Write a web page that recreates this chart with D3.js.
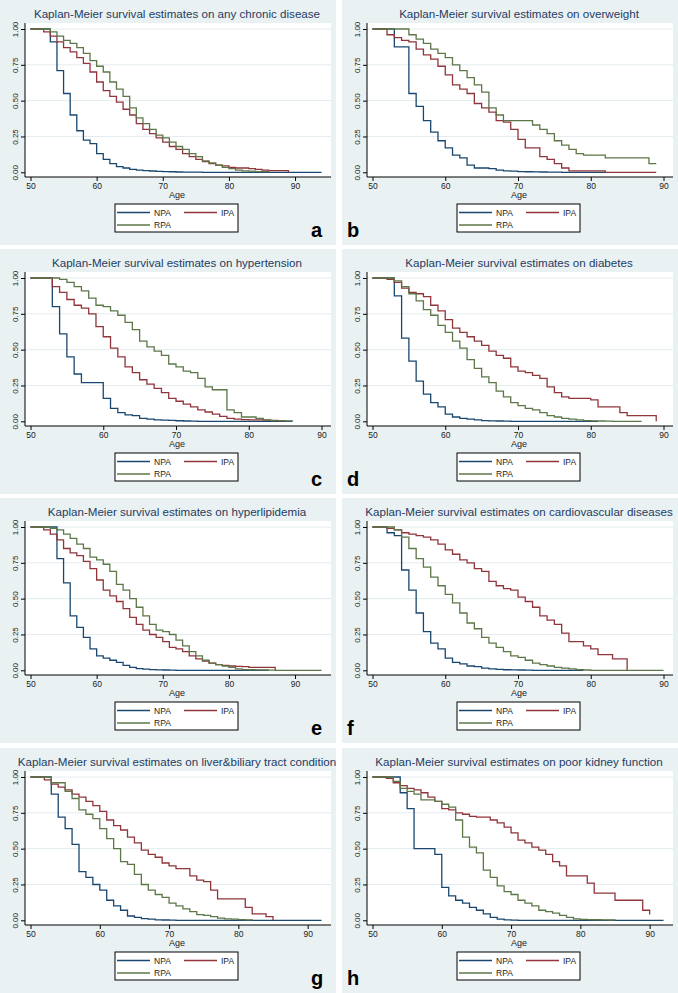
<!DOCTYPE html>
<html><head><meta charset="utf-8">
<script src="https://cdn.jsdelivr.net/npm/d3@7"></script>
<style>
body{margin:0;background:#fff}
svg{display:block}
text{font-family:"Liberation Sans",Arial,Helvetica,sans-serif}
</style>
</head><body>
<svg id="chart" width="678" height="993"></svg>
<script>
// ---------- data ----------
const startAge = 50;
const titles = [
  "Kaplan-Meier survival estimates on any chronic disease",
  "Kaplan-Meier survival estimates on overweight",
  "Kaplan-Meier survival estimates on hypertension",
  "Kaplan-Meier survival estimates on diabetes",
  "Kaplan-Meier survival estimates on hyperlipidemia",
  "Kaplan-Meier survival estimates on cardiovascular diseases",
  "Kaplan-Meier survival estimates on liver&biliary tract condition",
  "Kaplan-Meier survival estimates on poor kidney function"
];
const letters = ["a","b","c","d","e","f","g","h"];
const xMaxes = [94,90,90,90,94,90,92,92];
const xTicks = [50,60,70,80,90];
const yTicks = [0,0.25,0.5,0.75,1];
const seriesNames = ["NPA","IPA","RPA"];
const seriesColors = ["#1a476f","#90353b","#5d7748"];

// survival at ages 50, 51, 52, ... (last value = end of curve)
const npaA = [1,1,1,.91,.71,.55,.40,.29,.225,.20,.13,.09,.06,.04,.03,.02,.015,.012,.009,.007,.005,.004,.002,.001,.001,.001,0,0,0,0,0,0,0,0,0,0,0,0,0,0,0,0,0,0,0];
const ipaA = [1,1,.98,.95,.91,.87,.84,.80,.76,.70,.63,.57,.53,.49,.44,.40,.34,.30,.27,.24,.21,.18,.16,.13,.11,.09,.075,.06,.05,.045,.035,.03,.03,.025,.02,.015,.012,.012,.012,0];
const rpaA = [1,1,1,.98,.95,.92,.90,.87,.83,.78,.74,.70,.63,.58,.53,.45,.38,.34,.30,.26,.24,.21,.18,.16,.13,.11,.08,.065,.05,.035,.025,.015,.01,.008,.005,.005,0];

const npaB = [1,1,1,.875,.875,.55,.46,.36,.28,.22,.17,.12,.10,.05,.03,.03,.025,.015,.01,.008,.005,.004,.003,.002,.001,.001,0,0,0,0,0,0,0];
const ipaB = [1,1,.96,.94,.92,.91,.86,.82,.79,.74,.68,.61,.58,.55,.48,.45,.42,.36,.35,.30,.23,.17,.17,.11,.09,.06,.03,.01,.01,.01,.01,.01,0,0,0,0,0,0,0,0];
const rpaB = [1,1,1,1,1,.96,.93,.90,.86,.83,.80,.75,.71,.66,.61,.56,.45,.40,.36,.36,.36,.36,.33,.30,.27,.22,.19,.16,.13,.12,.12,.12,.10,.10,.10,.10,.10,.10,.06,.06];

const npaC = [1,1,1,.80,.61,.45,.33,.27,.27,.27,.16,.09,.06,.045,.04,.02,.015,.01,.008,.006,.004,.002,.001,0,0,0,0,0,0,0,0,0,0,0,0,0,0];
const ipaC = [1,1,1,.94,.90,.85,.81,.79,.75,.66,.59,.51,.45,.38,.34,.29,.26,.23,.20,.16,.14,.12,.10,.08,.065,.05,.035,.02,.015,.012,.01,.01,.008,.006,.004,0];
const rpaC = [1,1,1,1,.99,.97,.94,.91,.86,.81,.80,.77,.74,.69,.64,.56,.52,.49,.46,.40,.38,.35,.34,.30,.24,.22,.22,.08,.06,.03,.03,.02,.01,.005,.005,.003,0];

const npaD = [1,1,1,.875,.58,.42,.28,.19,.13,.10,.05,.03,.02,.015,.01,.005,.003,.002,.001,0,0,0,0,0,0,0,0,0,0,0,0,0];
const ipaD = [1,1,.99,.97,.93,.90,.89,.87,.81,.77,.71,.65,.62,.59,.56,.53,.49,.46,.44,.38,.35,.34,.32,.30,.24,.20,.17,.16,.16,.16,.15,.10,.10,.10,.06,.04,.04,.04,.04,0];
const rpaD = [1,1,1,.98,.94,.89,.84,.78,.74,.67,.62,.56,.51,.43,.37,.31,.27,.21,.17,.13,.11,.09,.08,.06,.04,.03,.02,.015,.01,.005,.003,.002,.001,0,0,0,0,0];

const npaE = [1,1,1,1,.78,.61,.38,.30,.23,.15,.10,.085,.07,.055,.035,.02,.012,.008,.005,.003,.002,.001,0,0,0,0,0,0,0,0,0,0,0,0,0,0,0];
const ipaE = [1,1,.98,.95,.91,.85,.82,.80,.76,.71,.63,.56,.52,.48,.43,.37,.32,.28,.25,.23,.20,.16,.15,.13,.10,.08,.065,.05,.04,.035,.03,.028,.025,.02,.02,.02,.02,0];
const rpaE = [1,1,1,.99,.98,.95,.92,.88,.85,.79,.77,.74,.69,.60,.56,.50,.44,.38,.32,.28,.27,.25,.21,.17,.13,.10,.07,.05,.04,.03,.02,.01,.005,.004,.003,.002,.001,0,0,0,0,0,0,0,0];

const npaF = [1,1,.96,.94,.70,.56,.40,.27,.19,.15,.085,.055,.045,.03,.025,.015,.01,.006,.004,.003,.002,.001,0,0,0,0,0,0,0,0];
const ipaF = [1,1,.99,.98,.96,.95,.94,.93,.91,.88,.84,.81,.77,.75,.71,.69,.62,.59,.57,.56,.51,.48,.44,.38,.35,.32,.26,.20,.20,.17,.15,.11,.11,.08,.08,0];
const rpaF = [1,1,1,.98,.93,.85,.78,.72,.65,.59,.53,.47,.40,.33,.29,.23,.19,.16,.13,.10,.09,.07,.05,.04,.03,.02,.015,.01,.005,.002,0,0,0,0,0,0,0,0,0,0,0];

const npaG = [1,1,1,.88,.72,.64,.53,.34,.30,.25,.21,.14,.10,.07,.03,.02,.012,.008,.003,.002,.001,0,0,0,0,0,0,0,0,0,0,0,0,0,0,0,0,0,0,0,0,0,0];
const ipaG = [1,1,.98,.95,.93,.91,.88,.86,.83,.80,.76,.70,.66,.63,.58,.54,.49,.46,.44,.40,.38,.36,.36,.31,.28,.27,.21,.15,.15,.15,.15,.09,.045,.045,.025,0];
const rpaG = [1,1,1,.96,.96,.90,.85,.77,.74,.71,.64,.57,.50,.41,.39,.32,.25,.21,.18,.16,.12,.10,.08,.06,.04,.035,.025,.015,.01,.008,.005,.003,0];

const npaH = [1,1,1,1,.89,.78,.50,.50,.50,.46,.23,.17,.14,.12,.09,.07,.045,.02,.008,.003,.001,0,0,0,0,0,0,0,0,0,0,0,0,0,0,0,0,0,0,0,0,0,0];
const ipaH = [1,1,.99,.96,.94,.92,.91,.89,.86,.83,.78,.77,.75,.74,.725,.72,.72,.70,.68,.65,.61,.56,.54,.51,.49,.46,.41,.38,.31,.31,.31,.26,.19,.19,.19,.14,.14,.14,.14,.07,.04];
const rpaH = [1,1,1,.97,.92,.90,.88,.84,.84,.83,.81,.79,.70,.58,.51,.47,.35,.30,.24,.20,.18,.14,.12,.10,.07,.06,.05,.035,.02,.01,.007,.005,.004,.003,.002,0];

const npaAll = [npaA,npaB,npaC,npaD,npaE,npaF,npaG,npaH];
const ipaAll = [ipaA,ipaB,ipaC,ipaD,ipaE,ipaF,ipaG,ipaH];
const rpaAll = [rpaA,rpaB,rpaC,rpaD,rpaE,rpaF,rpaG,rpaH];

// ---------- layout ----------
const colLeft = [0, 342];
const rowTop = [0, 249, 498, 748];
const panelW = 336, panelH = 245;
const bg = "#e9f1f2";

const svg = d3.select("#chart");
svg.append("rect").attr("width",678).attr("height",993).attr("fill","#fff");

titles.forEach((title, i) => {
  const ox = colLeft[i % 2], oy = rowTop[Math.floor(i / 2)];
  const g = svg.append("g");
  g.append("rect").attr("x", ox).attr("y", oy).attr("width", panelW).attr("height", panelH).attr("fill", bg);
  // plot region
  g.append("rect").attr("x", ox + 25).attr("y", oy + 23).attr("width", 306).attr("height", 154).attr("fill", "#fff");

  const x = d3.scaleLinear().domain([startAge, xMaxes[i]]).range([ox + 30.5, ox + 321.5]);
  const y = d3.scaleLinear().domain([0, 1]).range([oy + 172.3, oy + 29]);

  // grid
  g.selectAll(".grid").data(yTicks.filter(d => d > 0)).join("line")
    .attr("x1", ox + 25).attr("x2", ox + 331)
    .attr("y1", d => y(d)).attr("y2", d => y(d))
    .attr("stroke", "#e4ecee").attr("stroke-width", 1);

  // title
  g.append("text").attr("x", ox + 177).attr("y", oy + 17.5).attr("text-anchor", "middle")
    .attr("font-size", 11.6).attr("fill", "#1f3b63").text(title);

  // curves
  const line = d3.line().x(d => x(d[0])).y(d => y(d[1])).curve(d3.curveStepAfter);
  [npaAll[i], ipaAll[i], rpaAll[i]].forEach((arr, s) => {
    const pts = arr.map((v, k) => [startAge + k, v]);
    g.append("path").attr("d", line(pts)).attr("fill", "none")
      .attr("stroke", seriesColors[s]).attr("stroke-width", 1.3);
  });

  // y axis
  const ya = g.append("g").attr("transform", `translate(${ox + 25},0)`)
    .call(d3.axisLeft(y).tickValues(yTicks).tickSize(4).tickSizeOuter(0).tickFormat(d3.format(".2f")));
  ya.select(".domain").remove();
  ya.selectAll(".tick line").attr("stroke", "#000");
  ya.selectAll(".tick text").attr("x", 0).attr("dy", null).attr("y", -7)
    .attr("transform", "rotate(-90)").attr("text-anchor", "middle")
    .attr("font-size", 8).attr("fill", "#222").style("font-family", '"Liberation Sans",Arial,sans-serif');
  g.append("line").attr("x1", ox + 25).attr("x2", ox + 25).attr("y1", oy + 23).attr("y2", oy + 177).attr("stroke", "#000");

  // x axis
  const xa = g.append("g").attr("transform", `translate(0,${oy + 177})`)
    .call(d3.axisBottom(x).tickValues(xTicks).tickSize(4).tickSizeOuter(0).tickPadding(2));
  xa.select(".domain").remove();
  xa.selectAll(".tick line").attr("stroke", "#000");
  xa.selectAll(".tick text").attr("font-size", 8.5).attr("fill", "#222")
    .style("font-family", '"Liberation Sans",Arial,sans-serif');
  g.append("line").attr("x1", ox + 25).attr("x2", ox + 331).attr("y1", oy + 177).attr("y2", oy + 177).attr("stroke", "#000");

  g.append("text").attr("x", ox + 177).attr("y", oy + 198).attr("text-anchor", "middle")
    .attr("font-size", 9).attr("fill", "#222").text("Age");

  // legend
  const lx = ox + 115, ly = oy + 204;
  g.append("rect").attr("x", lx).attr("y", ly).attr("width", 123).attr("height", 28)
    .attr("fill", "#fff").attr("stroke", "#000").attr("stroke-width", 1);
  const legPos = [[2, 8.5], [69, 8.5], [2, 21]];
  seriesNames.forEach((name, s) => {
    const [dx, dy] = legPos[s];
    g.append("line").attr("x1", lx + dx).attr("x2", lx + dx + 33).attr("y1", ly + dy).attr("y2", ly + dy)
      .attr("stroke", seriesColors[s]).attr("stroke-width", 1.5);
    g.append("text").attr("x", lx + dx + 37).attr("y", ly + dy + 3).attr("font-size", 8.5)
      .attr("fill", "#222").text(name);
  });

  // panel letter
  g.append("text").attr("x", i % 2 === 0 ? ox + 311 : ox + 5).attr("y", oy + 237)
    .attr("font-size", 20).attr("font-weight", "bold").attr("fill", "#000").text(letters[i]);
});
</script>
</body></html>
